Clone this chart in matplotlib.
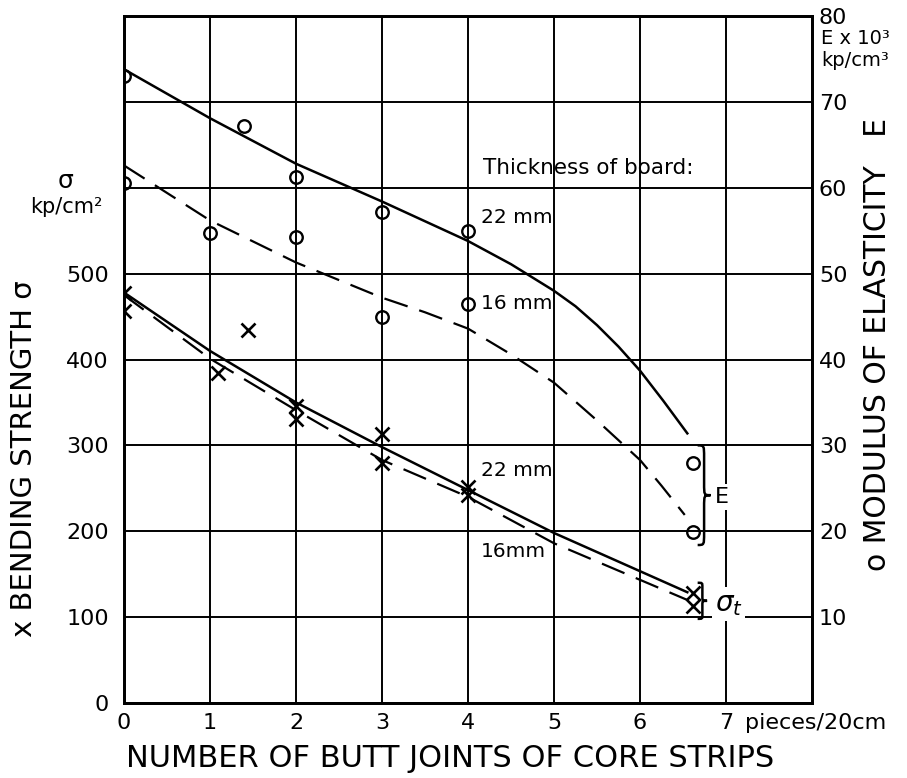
import numpy as np
import matplotlib.pyplot as plt
from matplotlib.path import Path
from matplotlib.patches import PathPatch

# measured points: modulus of elasticity E (x10^3 kp/cm3), right axis
e22_x = [0, 1.4, 2, 3, 4, 6.62]
e22_y = [73.0, 67.2, 61.3, 57.2, 55.0, 28.0]
e16_x = [0, 1, 2, 3, 4, 6.62]
e16_y = [60.6, 54.7, 54.3, 44.9, 46.5, 19.9]

# measured points: bending strength sigma (kp/cm2), left axis
s22_x = [0, 1.44, 2, 3, 4, 6.62]
s22_y = [477, 434, 346, 313, 251, 128]
s16_x = [0, 1.09, 2, 3, 4, 6.62]
s16_y = [456, 384, 331, 280, 242, 113]

# fitted curves as drawn
e22_cx = [0, 1, 2, 3, 4, 4.5, 5, 5.25, 5.5, 5.75, 6, 6.27, 6.55]
e22_cy = [73.8, 68.1, 62.8, 58.4, 53.8, 51.1, 48.0, 46.2, 44.0, 41.5, 38.7, 35.2, 31.4]
e16_cx = [0, 1, 2, 3, 3.5, 4, 4.5, 5, 5.5, 6, 6.25, 6.52]
e16_cy = [62.6, 56.2, 51.3, 47.2, 45.5, 43.6, 40.6, 37.3, 32.9, 28.3, 25.3, 21.9]
s22_cx = [0, 1, 2, 3, 4, 5, 6.55]
s22_cy = [478, 410, 350, 298, 248, 198, 129]
s16_cx = [0, 1, 2, 3, 4, 5, 6.55]
s16_cy = [475, 401, 341, 283, 240, 186, 120]

x_ticks = [0, 1, 2, 3, 4, 5, 6, 7]
left_ticks = [0, 100, 200, 300, 400, 500, 600, 700, 800]
left_labels = ['0', '100', '200', '300', '400', '500', '', '', '']
right_ticks = [10, 20, 30, 40, 50, 60, 70, 80]


def brace(ax, x, y0, y1, w, lw=1.8):
    # curly brace "}" from y0 (bottom) to y1 (top), opening to the left
    ym = (y0 + y1) / 2
    h = (y1 - y0)
    r = h * 0.12
    xm = x + w * 0.5
    verts = [(x, y1), (xm, y1), (xm, y1), (xm, y1 - r),
             (xm, ym + r),
             (xm, ym), (xm, ym), (x + w, ym),
             (xm, ym), (xm, ym), (xm, ym - r),
             (xm, y0 + r),
             (xm, y0), (xm, y0), (x, y0)]
    codes = [Path.MOVETO, Path.CURVE4, Path.CURVE4, Path.CURVE4,
             Path.LINETO,
             Path.CURVE4, Path.CURVE4, Path.CURVE4,
             Path.CURVE4, Path.CURVE4, Path.CURVE4,
             Path.LINETO,
             Path.CURVE4, Path.CURVE4, Path.CURVE4]
    ax.add_patch(PathPatch(Path(verts, codes), fill=False, lw=lw,
                           color='black', zorder=5))


plt.rcParams['font.family'] = 'DejaVu Sans'
fig = plt.figure(figsize=(9.07, 7.78), dpi=100)
ax = fig.add_axes([0.1367, 0.0964, 0.7586, 0.883])
ax2 = ax.twinx()

ax.set_xlim(0, 8)
ax.set_ylim(0, 800)
ax2.set_ylim(0, 80)

ax.set_xticks(x_ticks)
ax.set_xticklabels([str(t) for t in x_ticks], fontsize=16)
ax.set_yticks(left_ticks)
ax.set_yticklabels(left_labels, fontsize=16)
ax2.set_yticks(right_ticks)
ax2.set_yticklabels([str(t) for t in right_ticks], fontsize=16)
ax.tick_params(axis='y', length=0, pad=11)
ax.tick_params(axis='x', length=0, pad=7)
ax2.tick_params(length=0, pad=5)
ax.grid(True, color='black', lw=1.4)
for sp in ax.spines.values():
    sp.set_linewidth(2)
for sp in ax2.spines.values():
    sp.set_linewidth(2)

# curves
dash = (0, (11, 5.5))
ax2.plot(e22_cx, e22_cy, color='black', lw=1.8)
ax2.plot(e16_cx, e16_cy, color='black', lw=1.6, linestyle=dash)
ax.plot(s22_cx, s22_cy, color='black', lw=1.8)
ax.plot(s16_cx, s16_cy, color='black', lw=1.6, linestyle=dash)

# points
ax2.plot(e22_x, e22_y, 'o', ms=9, mfc='none', mec='black', mew=1.7)
ax2.plot(e16_x, e16_y, 'o', ms=9, mfc='none', mec='black', mew=1.7)
ax.plot(s22_x, s22_y, 'x', ms=9.5, color='black', mew=1.9)
ax.plot(s16_x, s16_y, 'x', ms=9.5, color='black', mew=1.9)

# annotations
ax2.text(4.17, 62.3, 'Thickness of board:', fontsize=15.5, va='center')
ax2.text(4.15, 56.5, '22 mm', fontsize=14.5, va='center')
ax2.text(4.15, 46.5, '16 mm', fontsize=14.5, va='center')
ax.text(4.15, 271, '22 mm', fontsize=14.5, va='center')
ax.text(4.15, 176, '16mm', fontsize=14.5, va='center')

brace(ax2, 6.67, min(e22_y[-1], e16_y[-1]) - 1.5, max(e22_y[-1], e16_y[-1]) + 2.0, 0.15)
ax2.text(6.87, 24.0, 'E', fontsize=16, va='center',
         bbox=dict(facecolor='white', edgecolor='none', pad=2))
brace(ax, 6.67, min(s22_y[-1], s16_y[-1]) - 15, max(s22_y[-1], s16_y[-1]) + 12, 0.11)
ax.text(6.87, 115, r'$\sigma_t$', fontsize=20, va='center',
        bbox=dict(facecolor='white', edgecolor='none', pad=2))

# axis labels
fig.text(0.026, 0.41, 'x BENDING STRENGTH σ', rotation=90, fontsize=21,
         ha='center', va='center')
fig.text(0.072, 0.767, 'σ', fontsize=18, ha='center', va='center')
fig.text(0.073, 0.734, 'kp/cm²', fontsize=15, ha='center', va='center')
fig.text(0.968, 0.557, 'o MODULUS OF ELASTICITY   E', rotation=90, fontsize=21.5,
         ha='center', va='center')
fig.text(0.905, 0.950, 'E x 10³', fontsize=14, ha='left', va='center')
fig.text(0.905, 0.922, 'kp/cm³', fontsize=14, ha='left', va='center')
fig.text(0.821, 0.071, 'pieces/20cm', fontsize=16, ha='left', va='center')
fig.text(0.496, 0.025, 'NUMBER OF BUTT JOINTS OF CORE STRIPS', fontsize=22,
         ha='center', va='center')

fig.savefig('out.png', dpi=100)
